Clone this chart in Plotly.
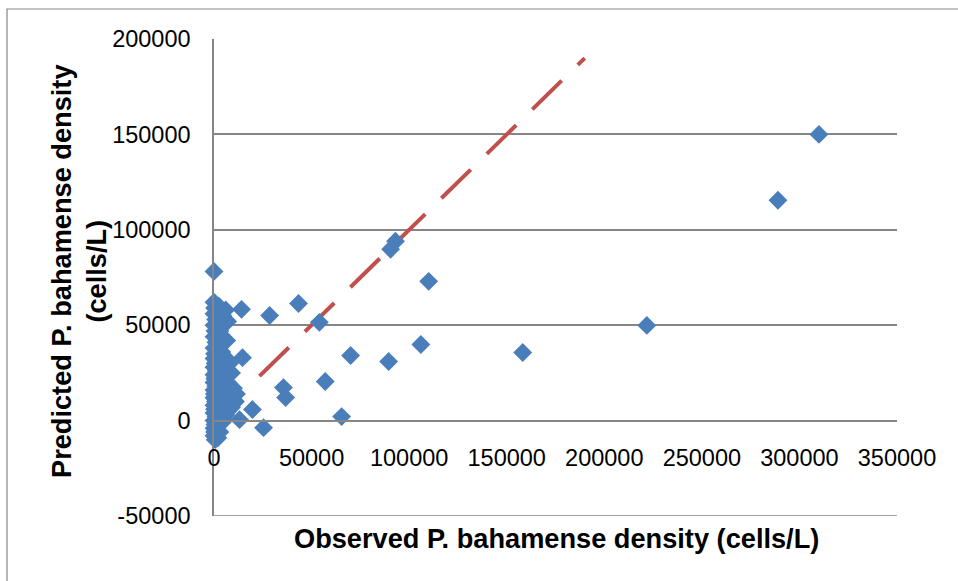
import plotly.graph_objects as go

# Observed vs predicted P. bahamense density (cells/L)
observed = [310000, 289000, 221800, 158200, 110000, 93000, 90500, 106000, 89500, 70000,
            65400, 54000, 57000, 43300, 35600, 36700, 28500, 25400, 19700, 14600,
            14100, 13100, 0,
            0, 300, 0, 800, 0, 500, 0, 1000, 0, 300, 0, 600, 0, 1200, 0, 400, 0, 900,
            0, 200, 0, 700, 0, 300, 0, 1000, 0, 500, 0, 300, 0, 600,
            3000, 6000, 7000, 4500, 2500, 6000, 4000, 6500, 3000, 8000, 9000, 5000,
            7000, 10000, 4000, 8000, 11000, 9000, 6000, 4000, 3000, 3000, 5000, 4000,
            7000, 2000, 5000, 11500, 2000]
predicted = [150000, 115500, 49900, 35700, 73000, 94000, 89800, 39900, 31000, 34100,
             2100, 51500, 20500, 61400, 17300, 12100, 55100, -3700, 5800, 33000,
             58300, 500, 78200,
             62000, 59000, 56000, 53000, 50000, 47000, 44000, 41000, 38000, 35000,
             32500, 30000, 28000, 26000, 24000, 22000, 20000, 18000, 16000, 14000,
             12000, 10000, 8000, 6000, 4000, 2000, 0, -2000, -4000, -6000, -8000, -10000,
             47000, 58000, 52000, 55000, 60000, 33000, 36000, 42000, 40000, 30000, 25000,
             27000, 20000, 17000, 15000, 13000, 10000, 7000, 3000, -1000, -6000, 18000,
             22000, 10000, 5000, -9000, 0, 14000, 30000]

# 1:1 reference line
line_x = [0, 190000]
line_y = [0, 190000]

x_ticks = [0, 50000, 100000, 150000, 200000, 250000, 300000, 350000]
y_ticks = [-50000, 0, 50000, 100000, 150000, 200000]
x_range = [0, 350000]
y_range = [-50000, 200000]

W, H = 958, 581
L, R, T, B = 214, 61, 39, 65
PW, PH = W - L - R, H - T - B


def px(xp):
    return (xp - L) / PW


def py(yp):
    return (H - B - yp) / PH


GRID = "#868686"
TICKFONT = dict(family="Liberation Sans, Arial, sans-serif", size=23.5, color="#000000")
TITLEFONT = dict(family="Liberation Sans, Arial, sans-serif", size=27.2, color="#000000")

fig = go.Figure()
fig.add_trace(go.Scatter(
    x=line_x, y=line_y, mode="lines",
    line=dict(color="#C0504D", width=4, dash="41px,22.6px"),
    showlegend=False, hoverinfo="skip", cliponaxis=False,
))
fig.add_trace(go.Scatter(
    x=observed, y=predicted, mode="markers",
    marker=dict(symbol="diamond", size=14.5, color="#4A7EBB", line=dict(width=0)),
    showlegend=False, cliponaxis=False,
))

fig.update_layout(
    width=W, height=H,
    margin=dict(l=L, r=R, t=T, b=B, pad=0),
    paper_bgcolor="white", plot_bgcolor="white",
    xaxis=dict(
        range=x_range, tickvals=x_ticks, ticktext=[str(v) for v in x_ticks],
        anchor="free", position=(0 - y_range[0]) / (y_range[1] - y_range[0]),
        showgrid=False, zeroline=False, showline=True, linecolor=GRID, linewidth=1.5,
        ticks="outside", ticklen=16, tickcolor="rgba(0,0,0,0)",
        tickfont=TICKFONT,
    ),
    yaxis=dict(
        range=y_range, tickvals=y_ticks, ticktext=[str(v) for v in y_ticks],
        showgrid=True, gridcolor=GRID, gridwidth=1.5, zeroline=False,
        showline=True, linecolor=GRID, linewidth=1.5,
        ticks="outside", ticklen=17, tickcolor="rgba(0,0,0,0)",
        tickfont=TICKFONT,
    ),
    shapes=[
        dict(type="rect", xref="paper", yref="paper",
             x0=px(7), x1=px(1200), y0=py(900), y1=py(9),
             line=dict(color=GRID, width=1.2), fillcolor="rgba(0,0,0,0)", layer="below"),
        dict(type="line", xref="x", yref="y",
             x0=x_range[0], x1=x_range[1], y0=y_range[0], y1=y_range[0],
             line=dict(color=GRID, width=1.5), layer="below"),
    ],
    annotations=[
        dict(text="<b>Observed P. bahamense density (cells/L)</b>", xref="paper", yref="paper",
             x=px(556), y=py(538), showarrow=False, font=TITLEFONT,
             xanchor="center", yanchor="middle"),
        dict(text="<b>Predicted P. bahamense density<br>(cells/L)</b>", xref="paper", yref="paper",
             x=px(79), y=py(271), showarrow=False, font=TITLEFONT, textangle=-90,
             xanchor="center", yanchor="middle"),
    ],
)

fig.write_html("out.html")
